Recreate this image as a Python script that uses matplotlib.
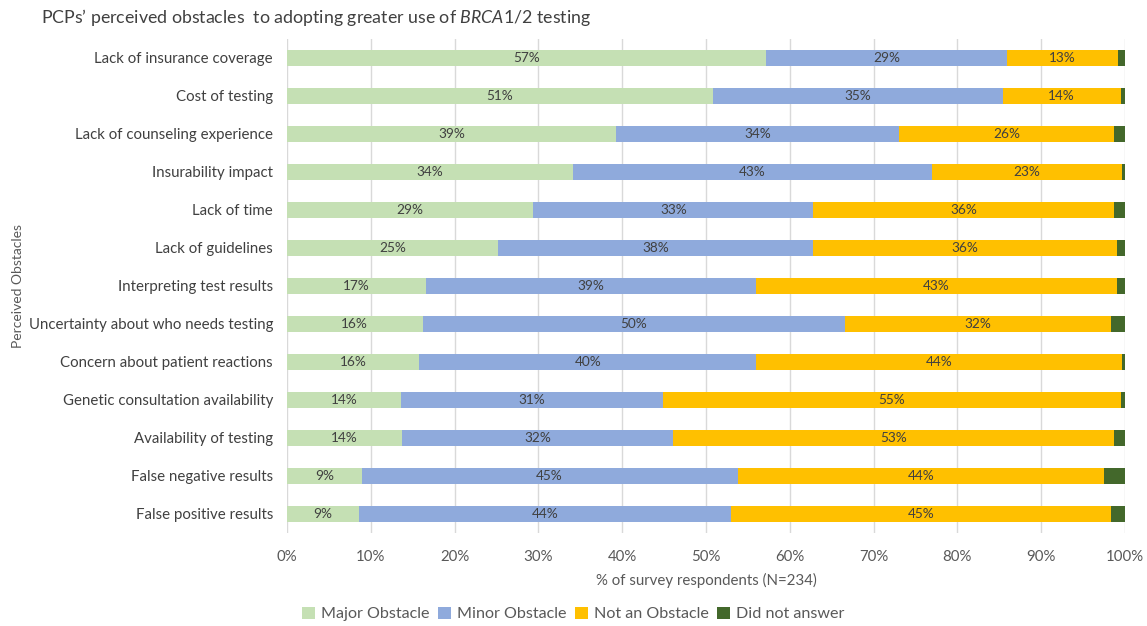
import matplotlib
matplotlib.use("Agg")
import matplotlib.pyplot as plt
import numpy as np

plt.rcParams['font.family'] = ['Lato', 'DejaVu Sans']
plt.rcParams['mathtext.fontset'] = 'custom'
plt.rcParams['mathtext.it'] = 'Lato:italic'
plt.rcParams['mathtext.rm'] = 'Lato'

# 장애 요인 (위에서 아래 순서)
categories = [
    "Lack of insurance coverage",
    "Cost of testing",
    "Lack of counseling experience",
    "Insurability impact",
    "Lack of time",
    "Lack of guidelines",
    "Interpreting test results",
    "Uncertainty about who needs testing",
    "Concern about patient reactions",
    "Genetic consultation availability",
    "Availability of testing",
    "False negative results",
    "False positive results",
]

major = [57.2, 50.8, 39.3, 34.1, 29.4, 25.2, 16.6, 16.2, 15.8, 13.6, 13.7, 8.9, 8.6]
minor = [28.7, 34.6, 33.7, 42.9, 33.4, 37.6, 39.4, 50.4, 40.2, 31.3, 32.4, 44.9, 44.4]
not_obstacle = [13.3, 14.1, 25.7, 22.6, 35.9, 36.2, 43.0, 31.7, 43.6, 54.6, 52.6, 43.7, 45.3]
no_answer = [0.8, 0.5, 1.3, 0.4, 1.3, 1.0, 1.0, 1.7, 0.4, 0.5, 1.3, 2.5, 1.7]

series = [
    ("Major Obstacle", major, "#C5E0B4", True),
    ("Minor Obstacle", minor, "#8FAADC", True),
    ("Not an Obstacle", not_obstacle, "#FFC000", True),
    ("Did not answer", no_answer, "#43682B", False),
]

fig = plt.figure(figsize=(11.47, 6.26), dpi=100)
ax = fig.add_axes([0.2502, 0.1486, 0.7306, 0.7891])

y = np.arange(len(categories))
left = np.zeros(len(categories))
for name, vals, col, show in series:
    vals = np.array(vals)
    ax.barh(y, vals, left=left, height=0.44, color=col, label=name, zorder=3)
    if show:
        for yi, l, v in zip(y, left, vals):
            ax.text(l + v / 2, yi, f"{v:.0f}%", ha='center', va='center',
                    fontsize=9.8, color='#404040', zorder=4)
    left += vals

ax.set_xlim(0, 100)
ax.set_ylim(len(categories) - 0.5, -0.5)
ax.set_yticks(y)
ax.set_yticklabels(categories, fontsize=10.8, color='#404040')
ax.set_xticks(np.arange(0, 101, 10))
ax.set_xticklabels([f"{t}%" for t in range(0, 101, 10)], fontsize=10.8, color='#595959')
ax.tick_params(axis='y', length=0, pad=10)
ax.tick_params(axis='x', length=0, pad=12)
ax.grid(axis='x', color='#D9D9D9', linewidth=1, zorder=0)
for s in ax.spines.values():
    s.set_visible(False)

ax.set_xlabel("% of survey respondents (N=234)", fontsize=10.8, color='#595959', labelpad=7)
ax.set_ylabel("Perceived Obstacles", fontsize=10, color='#595959')
ax.yaxis.set_label_coords(-0.314, 0.5)

fig.text(0.036, 0.972, "PCPs\u2019 perceived obstacles  to adopting greater use of $\\it{BRCA1/2}$ testing",
         fontsize=12.8, color='#404040', va='center', ha='left')

handles, labels = ax.get_legend_handles_labels()
leg = fig.legend(handles, labels, loc='center', bbox_to_anchor=(0.5, 0.019), ncol=4,
                 frameon=False, fontsize=11.6, handlelength=0.8, handleheight=0.8,
                 handletextpad=0.4, columnspacing=0.5)
for t in leg.get_texts():
    t.set_color('#595959')

fig.savefig("out.png", dpi=100)
